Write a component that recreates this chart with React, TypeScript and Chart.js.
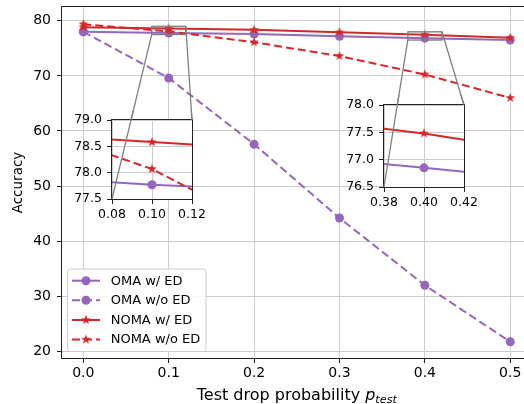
import React, { useEffect, useRef } from 'react';
import { Chart, registerables } from 'chart.js';

Chart.register(...registerables);

// ---------------- data ----------------
const xValues = [0.0, 0.1, 0.2, 0.3, 0.4, 0.5];
const omaWithED = [78.0, 77.77, 77.6, 77.2, 76.85, 76.5];
const omaWithoutED = [78.0, 69.6, 57.6, 44.2, 32.0, 21.75];
const nomaWithED = [78.83, 78.58, 78.35, 77.9, 77.48, 76.9];
const nomaWithoutED = [79.37, 78.07, 76.1, 73.6, 70.25, 66.0];
const seriesLabels = ['OMA w/ ED', 'OMA w/o ED', 'NOMA w/ ED', 'NOMA w/o ED'];

const xTicks = [0.0, 0.1, 0.2, 0.3, 0.4, 0.5];
const yTicks = [20, 30, 40, 50, 60, 70, 80];
const inset1XTicks = [0.08, 0.1, 0.12];
const inset1YTicks = [77.5, 78.0, 78.5, 79.0];
const inset2XTicks = [0.38, 0.4, 0.42];
const inset2YTicks = [76.5, 77.0, 77.5, 78.0];

const xTitle = 'Test drop probability ';
const xTitleVar = 'p';
const xTitleSub = 'test';
const yTitle = 'Accuracy';

// ---------------- styles / layout ----------------
const FONT = 'DejaVu Sans';
const PURPLE = '#9467bd';
const RED = '#d62728';
const GRID = '#cccccc';
const MAIN_W = 540;
const MAIN_H = 404;
const AREA = { left: 62, top: 7, right: 531.6, bottom: 358 };

const IL = 45;
const IT = 10;
const IR = 18;
const IB = 26;
const INSETS = [
  { left: 112, top: 120, w: 80, h: 79, x: [0.08, 0.12], y: [77.5, 79.0], xt: inset1XTicks, yt: inset1YTicks },
  { left: 384, top: 105, w: 80, h: 82, x: [0.38, 0.42], y: [76.5, 78.0], xt: inset2XTicks, yt: inset2YTicks },
];

Chart.defaults.font.family = FONT;

function makeStar(color: string, R: number) {
  const size = Math.ceil(R * 2) + 2;
  const c = document.createElement('canvas');
  c.width = size;
  c.height = size;
  const g = c.getContext('2d')!;
  const r = R * 0.42;
  g.beginPath();
  for (let i = 0; i < 10; i++) {
    const ang = -Math.PI / 2 + (i * Math.PI) / 5;
    const rr = i % 2 === 0 ? R : r;
    const px = size / 2 + rr * Math.cos(ang);
    const py = size / 2 + rr * Math.sin(ang);
    if (i === 0) g.moveTo(px, py);
    else g.lineTo(px, py);
  }
  g.closePath();
  g.fillStyle = color;
  g.fill();
  return c;
}

function makeDatasets(star: HTMLCanvasElement) {
  const pts = (arr: number[]) => xValues.map((x, i) => ({ x, y: arr[i] }));
  return [
    {
      label: seriesLabels[0], data: pts(omaWithED), borderColor: PURPLE, backgroundColor: PURPLE,
      borderWidth: 2, pointRadius: 4.5, pointStyle: 'circle', pointBorderWidth: 0, order: 3,
    },
    {
      label: seriesLabels[1], data: pts(omaWithoutED), borderColor: PURPLE, backgroundColor: PURPLE,
      borderWidth: 2, borderDash: [8, 4], pointRadius: 4.5, pointStyle: 'circle', pointBorderWidth: 0, order: 2,
    },
    {
      label: seriesLabels[2], data: pts(nomaWithED), borderColor: RED, backgroundColor: RED,
      borderWidth: 2, pointRadius: 5, pointStyle: star, pointBorderWidth: 0, order: 1,
    },
    {
      label: seriesLabels[3], data: pts(nomaWithoutED), borderColor: RED, backgroundColor: RED,
      borderWidth: 2, borderDash: [8, 4], pointRadius: 5, pointStyle: star, pointBorderWidth: 0, order: 0,
    },
  ];
}

type Corner = { rll: [number, number]; rur: [number, number] };

export default function App() {
  const mainRef = useRef<HTMLCanvasElement>(null);
  const in1Ref = useRef<HTMLCanvasElement>(null);
  const in2Ref = useRef<HTMLCanvasElement>(null);

  useEffect(() => {
    const star = makeStar(RED, 5);
    const charts: Chart[] = [];
    const corners: Corner[] = [];

    const insetCornersPage = INSETS.map((s) => ({
      ll: [s.left, s.top + s.h] as [number, number],
      ur: [s.left + s.w, s.top] as [number, number],
    }));

    const mainPlugin = {
      id: 'mainDeco',
      afterDatasetsDraw(chart: any) {
        const ctx = chart.ctx as CanvasRenderingContext2D;
        const xs = chart.scales.x;
        const ys = chart.scales.y;
        ctx.save();
        INSETS.forEach((s, i) => {
          const x0 = xs.getPixelForValue(s.x[0]);
          const x1 = xs.getPixelForValue(s.x[1]);
          const y0 = ys.getPixelForValue(s.y[0]);
          const y1 = ys.getPixelForValue(s.y[1]);
          corners[i] = { rll: [x0, y0], rur: [x1, y1] };
          ctx.fillStyle = 'rgba(128,128,128,0.12)';
          ctx.fillRect(x0, y1, x1 - x0, y0 - y1);
          ctx.strokeStyle = '#808080';
          ctx.lineWidth = 1.3;
          ctx.strokeRect(x0, y1, x1 - x0, y0 - y1);
          ctx.beginPath();
          ctx.moveTo(x0, y0);
          ctx.lineTo(insetCornersPage[i].ll[0], insetCornersPage[i].ll[1]);
          ctx.moveTo(x1, y1);
          ctx.lineTo(insetCornersPage[i].ur[0], insetCornersPage[i].ur[1]);
          ctx.stroke();
        });
        ctx.restore();
      },
      afterDraw(chart: any) {
        const ctx = chart.ctx as CanvasRenderingContext2D;
        const a = chart.chartArea;
        ctx.save();
        // spines: left, top, bottom (the right spine lies beyond the visible page)
        ctx.strokeStyle = '#222';
        ctx.lineWidth = 1;
        const L = Math.round(a.left) - 0.5;
        const T = Math.round(a.top) - 0.5;
        const B = Math.round(a.bottom) + 0.5;
        const R = a.right + 0.5;
        ctx.beginPath();
        ctx.moveTo(R, T);
        ctx.lineTo(L, T);
        ctx.lineTo(L, B);
        ctx.lineTo(R, B);
        ctx.stroke();

        // x title with subscript
        const cx = (a.left + a.right) / 2;
        ctx.fillStyle = '#000';
        ctx.textBaseline = 'alphabetic';
        ctx.textAlign = 'left';
        ctx.font = `16px "${FONT}"`;
        const w1 = ctx.measureText(xTitle).width;
        ctx.font = `italic 16px "${FONT}"`;
        const w2 = ctx.measureText(xTitleVar).width;
        ctx.font = `italic 11.2px "${FONT}"`;
        const w3 = ctx.measureText(xTitleSub).width;
        let sx = cx - (w1 + w2 + w3) / 2;
        const base = 400;
        ctx.font = `16px "${FONT}"`;
        ctx.fillText(xTitle, sx, base);
        sx += w1;
        ctx.font = `italic 16px "${FONT}"`;
        ctx.fillText(xTitleVar, sx, base);
        sx += w2;
        ctx.font = `italic 11.2px "${FONT}"`;
        ctx.fillText(xTitleSub, sx, base + 3);

        // legend
        const bx = 67.5, by = 269, bw = 138.5, bh = 82.5;
        ctx.beginPath();
        (ctx as any).roundRect(bx, by, bw, bh, 3);
        ctx.fillStyle = 'rgba(255,255,255,0.85)';
        ctx.fill();
        ctx.strokeStyle = '#cccccc';
        ctx.lineWidth = 1;
        ctx.stroke();
        const rows = [280.7, 300.3, 320, 339.6];
        const colors = [PURPLE, PURPLE, RED, RED];
        const dashed = [false, true, false, true];
        rows.forEach((ry, i) => {
          ctx.strokeStyle = colors[i];
          ctx.lineWidth = 2;
          ctx.setLineDash(dashed[i] ? [8, 4] : []);
          ctx.beginPath();
          ctx.moveTo(72, ry);
          ctx.lineTo(100, ry);
          ctx.stroke();
          ctx.setLineDash([]);
          if (i < 2) {
            ctx.fillStyle = colors[i];
            ctx.beginPath();
            ctx.arc(86, ry, 4.5, 0, Math.PI * 2);
            ctx.fill();
          } else {
            ctx.drawImage(star, 86 - star.width / 2, ry - star.height / 2);
          }
          ctx.fillStyle = '#000';
          ctx.font = `13px "${FONT}"`;
          ctx.textBaseline = 'middle';
          ctx.fillText(seriesLabels[i], 110.7, ry + 0.5);
        });
        ctx.restore();
      },
    };

    const main = new Chart(mainRef.current!, {
      type: 'line',
      data: { datasets: makeDatasets(star) as any },
      options: {
        animation: false,
        responsive: false,
        devicePixelRatio: 1,
        events: [],
        layout: { padding: { left: 0, top: AREA.top, right: MAIN_W - AREA.right, bottom: 0 } },
        plugins: { legend: { display: false }, tooltip: { enabled: false } },
        scales: {
          x: {
            type: 'linear',
            min: -0.025,
            max: 0.525,
            afterBuildTicks: (s: any) => { s.ticks = xTicks.map((v) => ({ value: v })); },
            afterFit: (s: any) => { s.height = MAIN_H - AREA.bottom; s.paddingLeft = 0; s.paddingRight = 0; },
            ticks: {
              callback: (v: any) => Number(v).toFixed(1),
              font: { size: 14, family: FONT }, color: '#000', padding: 2, maxRotation: 0, autoSkip: false,
            },
            grid: { color: GRID, lineWidth: 1, tickColor: '#222', tickLength: 5 },
            border: { display: false },
          },
          y: {
            type: 'linear',
            min: 18.8,
            max: 82.5,
            afterBuildTicks: (s: any) => { s.ticks = yTicks.map((v) => ({ value: v })); },
            afterFit: (s: any) => { s.width = AREA.left; s.paddingTop = 0; s.paddingBottom = 0; },
            ticks: {
              callback: (v: any) => String(v),
              font: { size: 14, family: FONT }, color: '#000', padding: 6, autoSkip: false,
            },
            grid: { color: GRID, lineWidth: 1, tickColor: '#222', tickLength: 5 },
            border: { display: false },
            title: {
              display: true, text: yTitle, color: '#000',
              font: { size: 13.5, family: FONT }, padding: { top: 10, bottom: 0 },
            },
          },
        },
      },
      plugins: [mainPlugin],
    } as any);
    charts.push(main);

    const refs = [in1Ref, in2Ref];
    INSETS.forEach((s, i) => {
      const offX = s.left - IL;
      const offY = s.top - IT;
      const insetPlugin = {
        id: 'insetDeco' + i,
        beforeDraw(chart: any) {
          const ctx = chart.ctx as CanvasRenderingContext2D;
          const a = chart.chartArea;
          ctx.save();
          ctx.fillStyle = '#fff';
          ctx.fillRect(a.left, a.top, a.right - a.left, a.bottom - a.top);
          ctx.restore();
        },
        afterDraw(chart: any) {
          const ctx = chart.ctx as CanvasRenderingContext2D;
          const a = chart.chartArea;
          ctx.save();
          ctx.strokeStyle = '#222';
          ctx.lineWidth = 1;
          ctx.strokeRect(Math.round(a.left) - 0.5, Math.round(a.top) - 0.5, Math.round(a.right - a.left) + 1, Math.round(a.bottom - a.top) + 1);
          const c = corners[i];
          if (c) {
            ctx.strokeStyle = '#808080';
            ctx.lineWidth = 1.3;
            ctx.beginPath();
            ctx.moveTo(c.rll[0] - offX, c.rll[1] - offY);
            ctx.lineTo(insetCornersPage[i].ll[0] - offX, insetCornersPage[i].ll[1] - offY);
            ctx.moveTo(c.rur[0] - offX, c.rur[1] - offY);
            ctx.lineTo(insetCornersPage[i].ur[0] - offX, insetCornersPage[i].ur[1] - offY);
            ctx.stroke();
          }
          ctx.restore();
        },
      };
      const inset = new Chart(refs[i].current!, {
        type: 'line',
        data: { datasets: makeDatasets(star) as any },
        options: {
          animation: false,
          responsive: false,
          devicePixelRatio: 1,
          events: [],
          layout: { padding: { left: 0, top: IT, right: IR, bottom: 0 } },
          plugins: { legend: { display: false }, tooltip: { enabled: false } },
          scales: {
            x: {
              type: 'linear',
              min: s.x[0],
              max: s.x[1],
              afterBuildTicks: (sc: any) => { sc.ticks = s.xt.map((v) => ({ value: v })); },
              afterFit: (sc: any) => { sc.height = IB; sc.paddingLeft = 0; sc.paddingRight = 0; },
              ticks: {
                callback: (v: any) => Number(v).toFixed(2),
                font: { size: 12.5, family: FONT }, color: '#000', padding: 3, maxRotation: 0, autoSkip: false,
              },
              grid: { color: GRID, lineWidth: 1, tickColor: '#222', tickLength: 5 },
              border: { display: false },
            },
            y: {
              type: 'linear',
              min: s.y[0],
              max: s.y[1],
              afterBuildTicks: (sc: any) => { sc.ticks = s.yt.map((v) => ({ value: v })); },
              afterFit: (sc: any) => { sc.width = IL; sc.paddingTop = 0; sc.paddingBottom = 0; },
              ticks: {
                callback: (v: any) => Number(v).toFixed(1),
                font: { size: 12.5, family: FONT }, color: '#000', padding: 5, autoSkip: false,
              },
              grid: { color: GRID, lineWidth: 1, tickColor: '#222', tickLength: 5 },
              border: { display: false },
            },
          },
        },
        plugins: [insetPlugin],
      } as any);
      charts.push(inset);
    });

    return () => {
      charts.forEach((c) => c.destroy());
    };
  }, []);

  return (
    <div style={{ position: 'absolute', left: 0, top: 0, width: 524, height: 404, overflow: 'hidden', background: '#fff' }}>
      <canvas
        ref={mainRef}
        width={MAIN_W}
        height={MAIN_H}
        style={{ position: 'absolute', left: 0, top: 0, width: MAIN_W, height: MAIN_H }}
      />
      {INSETS.map((s, i) => (
        <canvas
          key={i}
          ref={i === 0 ? in1Ref : in2Ref}
          width={IL + s.w + IR}
          height={IT + s.h + IB}
          style={{
            position: 'absolute',
            left: s.left - IL,
            top: s.top - IT,
            width: IL + s.w + IR,
            height: IT + s.h + IB,
          }}
        />
      ))}
    </div>
  );
}
